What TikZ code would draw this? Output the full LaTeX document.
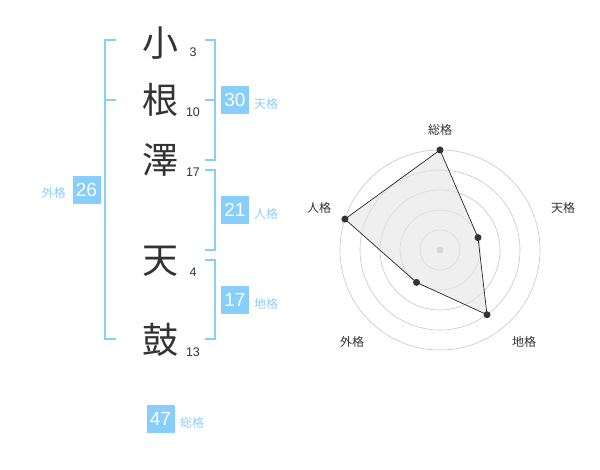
\documentclass[tikz,border=0pt]{standalone}
\usepackage{fontspec}
\setmainfont{Liberation Sans}
\newfontfamily\cjk{Noto Sans CJK JP}
\begin{document}
\begin{tikzpicture}[x=1pt,y=-1pt,
  kanji/.style={inner sep=0pt,font=\cjk\fontsize{36}{36}\selectfont,text=black!80},
  strokes/.style={inner sep=0pt,anchor=base,font=\fontsize{12.5}{12.5}\selectfont,text=black!80},
  bracket/.style={draw=skyb,line width=2pt},
  numbox/.style={fill=skyb,minimum width=28pt,minimum height=28pt,inner sep=0pt,text=white,font=\fontsize{19}{19}\selectfont},
  kaku/.style={inner sep=0pt,text=skyl,font=\cjk\fontsize{12}{12}\selectfont},
  ring/.style={draw=black!22,line width=0.6pt},
  rlabel/.style={inner sep=0pt,text=black!80,font=\cjk\fontsize{12}{12}\selectfont},
  pt/.style={circle,fill=black!80,inner sep=0pt,minimum size=7pt}
]
\definecolor{skyb}{RGB}{135,206,250}
\definecolor{skyl}{RGB}{140,206,246}
\useasboundingbox (0,0) rectangle (600,470);
% kanji
\node[kanji] (k1) at (160,43) {小};
\node[kanji] (k2) at (160,100) {根};
\node[kanji] (k3) at (160,160) {澤};
\node[kanji] (k4) at (160,261) {天};
\node[kanji] (k5) at (160,340) {鼓};
\node[strokes] (s1) at (193,57) {3};
\node[strokes] (s2) at (193,117) {10};
\node[strokes] (s3) at (193,177) {17};
\node[strokes] (s4) at (193,277) {4};
\node[strokes] (s5) at (193,357) {13};
% brackets
\coordinate (lt) at (116,40); \coordinate (lb) at (116,339);
\draw[bracket] (lt) -- (105,40) -- (105,339) -- (lb);
\draw[bracket] (105,100) -- (116,100);
\draw[bracket] (205,40) -- (215,40) -- (215,160) -- (205,160);
\draw[bracket] (205,100) -- (215,100);
\draw[bracket] (205,170) -- (215,170) -- (215,250) -- (205,250);
\draw[bracket] (205,260) -- (215,260) -- (215,339) -- (205,339);
% boxes
\node[numbox] (b30) at (235,100) {30};
\node[kaku,anchor=west] (t30) at (254,104) {天格};
\node[numbox] (b21) at (235,210) {21};
\node[kaku,anchor=west] (t21) at (254,214) {人格};
\node[numbox] (b17) at (235,300) {17};
\node[kaku,anchor=west] (t17) at (254,304) {地格};
\node[numbox] (b26) at (86.5,190) {26};
\node[kaku,anchor=east] (t26) at (66,193) {外格};
\node[numbox] (b47) at (160.5,419) {47};
\node[kaku,anchor=west] (t47) at (180,423) {総格};
% radar
\coordinate (c) at (440,250);
\foreach \r in {20,40,60,80,100} \draw[ring] (c) circle[radius=\r];
\fill[black!25] (c) circle[radius=3.5];
\coordinate (p1) at (440,150);
\coordinate (p2) at (478.0,237.6);
\coordinate (p3) at (487.0,314.7);
\coordinate (p4) at (416.5,282.4);
\coordinate (p5) at (344.9,219.1);
\draw[fill=black!10,fill opacity=0.6,draw=black!85,line width=0.7pt] (p1) -- (p2) -- (p3) -- (p4) -- (p5) -- cycle;
\foreach \p in {p1,p2,p3,p4,p5} \node[pt] at (\p) {};
\node[rlabel] (l1) at (440,130) {総格};
\node[rlabel] (l2) at (563,208) {天格};
\node[rlabel] (l3) at (524,342) {地格};
\node[rlabel] (l4) at (352,342) {外格};
\node[rlabel] (l5) at (319,208) {人格};
\end{tikzpicture}
\end{document}
